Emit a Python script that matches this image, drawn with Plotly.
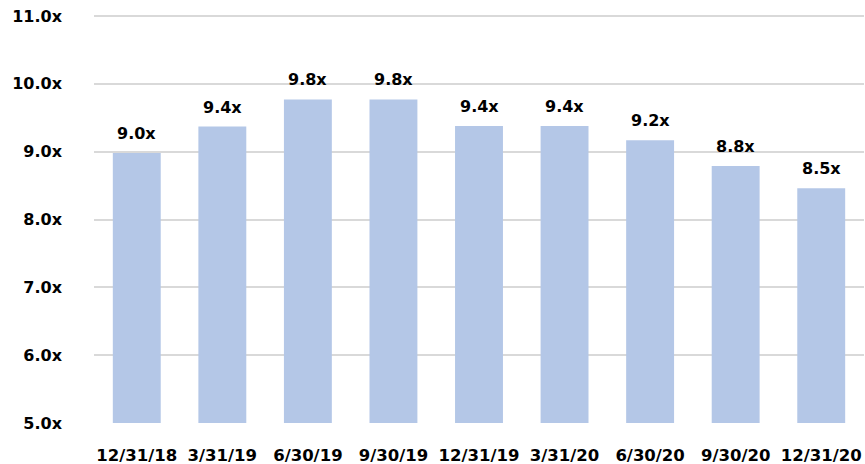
import plotly.graph_objects as go

categories = ["12/31/18", "3/31/19", "6/30/19", "9/30/19", "12/31/19", "3/31/20", "6/30/20", "9/30/20", "12/31/20"]
values = [8.98, 9.37, 9.77, 9.77, 9.38, 9.38, 9.17, 8.79, 8.46]
y_ticks = [5, 6, 7, 8, 9, 10, 11]
y_tick_labels = ["5.0x", "6.0x", "7.0x", "8.0x", "9.0x", "10.0x", "11.0x"]

font_family = "'DejaVu Sans', sans-serif"

fig = go.Figure(go.Bar(
    x=categories,
    y=values,
    marker=dict(color="#B4C7E7", line=dict(width=0)),
    hoverinfo="x+y",
))

for c, v in zip(categories, values):
    fig.add_annotation(
        x=c, y=v, text="<b>%.1fx</b>" % v, showarrow=False,
        yanchor="bottom", yshift=8,
        font=dict(size=16, color="#000000", family=font_family),
    )

fig.update_layout(
    width=865, height=464,
    margin=dict(l=94, r=1, t=15, b=41),
    plot_bgcolor="white", paper_bgcolor="white",
    bargap=0.44,
    showlegend=False,
    font=dict(family=font_family, size=16, color="#000000"),
)
fig.update_yaxes(
    range=[5, 11.015], tickvals=y_ticks, ticktext=["<b>%s</b>" % t for t in y_tick_labels],
    showgrid=True, gridcolor="#D9D9D9", gridwidth=1.5, zeroline=False, showline=False,
    ticks="", ticklabelstandoff=31, tickfont=dict(size=16), automargin=False,
    ticklabeloverflow="allow",
)
fig.update_xaxes(
    tickvals=categories, ticktext=["<b>%s</b>" % c for c in categories],
    showline=False, ticks="", ticklabelstandoff=20, tickfont=dict(size=16.5), automargin=False,
    ticklabeloverflow="allow",
)

# remove the default 8px page margin so the figure fills the window exactly
fig.write_html(
    "out.html",
    config={"displayModeBar": False},
    post_script="document.body.style.margin='0';document.body.style.overflow='hidden';",
)
